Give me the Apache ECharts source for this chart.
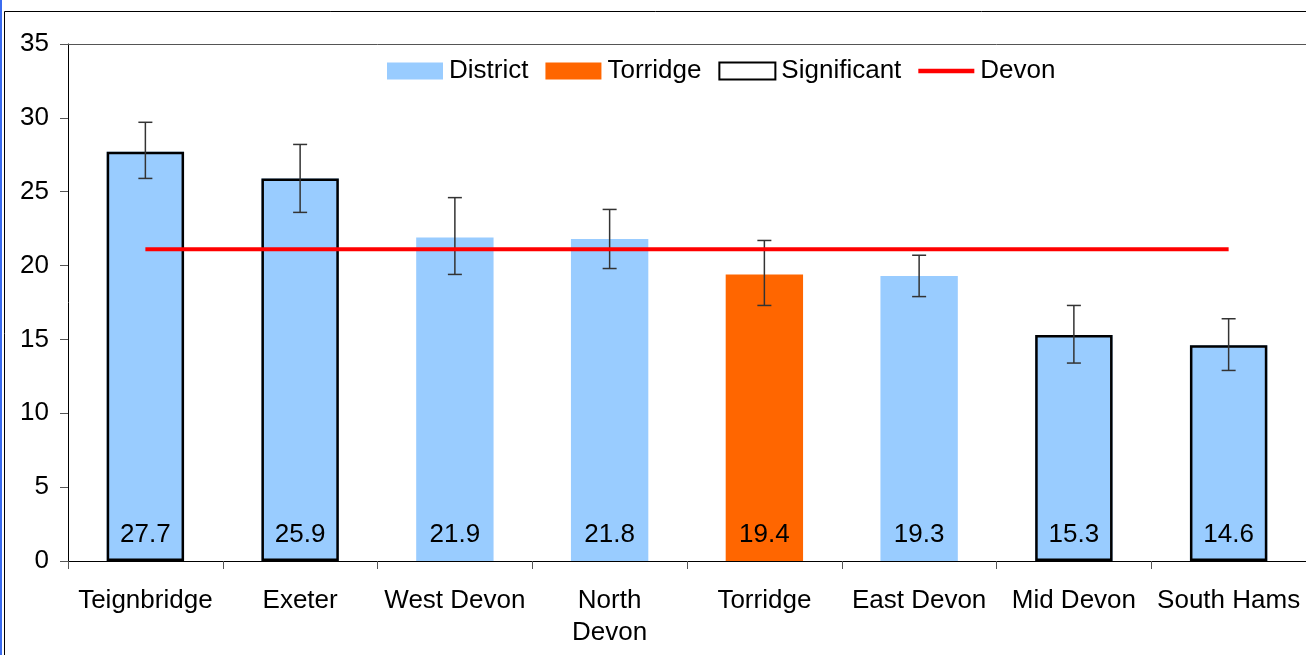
<!DOCTYPE html>
<html>
<head>
<meta charset="utf-8">
<script src="https://cdn.jsdelivr.net/npm/echarts@6/dist/echarts.min.js"></script>
<style>html,body{margin:0;padding:0;background:#fff}#c{width:1306px;height:655px}</style>
</head>
<body>
<div id="c"></div>
<script>
const categories = ['Teignbridge', 'Exeter', 'West Devon', 'North\nDevon', 'Torridge', 'East Devon', 'Mid Devon', 'South Hams'];
const values = [27.7, 25.9, 21.9, 21.8, 19.4, 19.3, 15.3, 14.6];
const lowerCI = [25.9, 23.6, 19.4, 19.8, 17.3, 17.9, 13.4, 12.9];
const upperCI = [29.7, 28.2, 24.6, 23.8, 21.7, 20.7, 17.3, 16.4];
const significant = [true, true, false, false, false, false, true, true];
const torridgeName = 'Torridge';
const devonValue = 21.1;
const yTicks = [0, 5, 10, 15, 20, 25, 30, 35];

const isTorridge = categories.map(c => c === torridgeName);
const districtData = values.map((v, i) => isTorridge[i] ? null : v);
const torridgeData = values.map((v, i) => isTorridge[i] ? v : null);
const sigData = values.map((v, i) => significant[i] ? v : null);
const devonData = categories.map(() => devonValue);
const errData = values.map((v, i) => [i, lowerCI[i], upperCI[i]]);

const FONT = '"Liberation Sans", Arial, sans-serif';
const labelCfg = {show: true, position: 'insideBottom', distance: 13, fontSize: 26, fontFamily: FONT, color: '#000', formatter: p => p.value.toFixed(1)};

const chart = echarts.init(document.getElementById('c'));
chart.setOption({
  animation: false,
  graphic: [
    {type: 'rect', shape: {x: 0, y: 0, width: 2, height: 655}, style: {fill: '#3b6cf0'}, z: 100},
    {type: 'rect', shape: {x: 4.5, y: 11.5, width: 1400, height: 700}, style: {fill: null, stroke: '#000', lineWidth: 1}, z: 100}
  ],
  grid: {left: 68, top: 44, bottom: 94, right: -5},
  legend: {
    left: 382, top: 53, itemWidth: 56, itemHeight: 17, itemGap: 17, icon: 'rect',
    textStyle: {fontSize: 26, fontFamily: FONT, color: '#000', padding: [0, 0, 0, 1]},
    data: ['District', 'Torridge', 'Significant',
      {name: 'Devon', icon: 'path://M0,0H100V8H0Z'}]
  },
  xAxis: [{
    type: 'category', data: categories,
    axisLine: {lineStyle: {color: '#000', width: 1}},
    axisTick: {show: true, length: 8, lineStyle: {color: '#555'}},
    axisLabel: {fontSize: 26, fontFamily: FONT, color: '#000', margin: 24, lineHeight: 32, interval: 0}
  }, {
    type: 'category', data: categories, position: 'top',
    axisLine: {show: true, lineStyle: {color: '#555', width: 1}},
    axisTick: {show: false}, axisLabel: {show: false}
  }],
  yAxis: {
    type: 'value', min: 0, max: 35, interval: 5,
    axisLine: {show: true, lineStyle: {color: '#000'}},
    axisTick: {show: true, length: 8, lineStyle: {color: '#555'}},
    splitLine: {show: false},
    axisLabel: {fontSize: 26, fontFamily: FONT, color: '#000', margin: 19,
      formatter: v => yTicks.includes(v) ? String(v) : ''}
  },
  series: [
    {name: 'District', type: 'bar', data: districtData, barWidth: '50%', barGap: '-100%',
     itemStyle: {color: '#99CCFF'}, label: labelCfg, z: 2},
    {name: 'Torridge', type: 'bar', data: torridgeData, barWidth: '50%', barGap: '-100%',
     itemStyle: {color: '#FF6600'}, label: labelCfg, z: 2},
    {name: 'Significant', type: 'bar', data: sigData, barWidth: '50%', barGap: '-100%',
     itemStyle: {color: 'rgba(255,255,255,0)', borderColor: '#000', borderWidth: 2.5}, z: 3},
    {name: 'err', type: 'custom', z: 4,
     renderItem: function (params, api) {
       const x = api.value(0);
       const lo = api.coord([x, api.value(1)]);
       const hi = api.coord([x, api.value(2)]);
       const hw = 7;
       const st = {stroke: '#333', lineWidth: 1.5};
       return {type: 'group', children: [
         {type: 'line', shape: {x1: lo[0], y1: lo[1], x2: hi[0], y2: hi[1]}, style: st},
         {type: 'line', shape: {x1: lo[0] - hw, y1: lo[1], x2: lo[0] + hw, y2: lo[1]}, style: st},
         {type: 'line', shape: {x1: hi[0] - hw, y1: hi[1], x2: hi[0] + hw, y2: hi[1]}, style: st}
       ]};
     },
     encode: {x: 0, y: [1, 2]}, data: errData},
    {name: 'Devon', type: 'line', data: devonData, symbol: 'none', showSymbol: false,
     lineStyle: {color: '#FF0000', width: 4}, itemStyle: {color: '#FF0000'}, z: 5}
  ]
});
</script>
</body>
</html>
